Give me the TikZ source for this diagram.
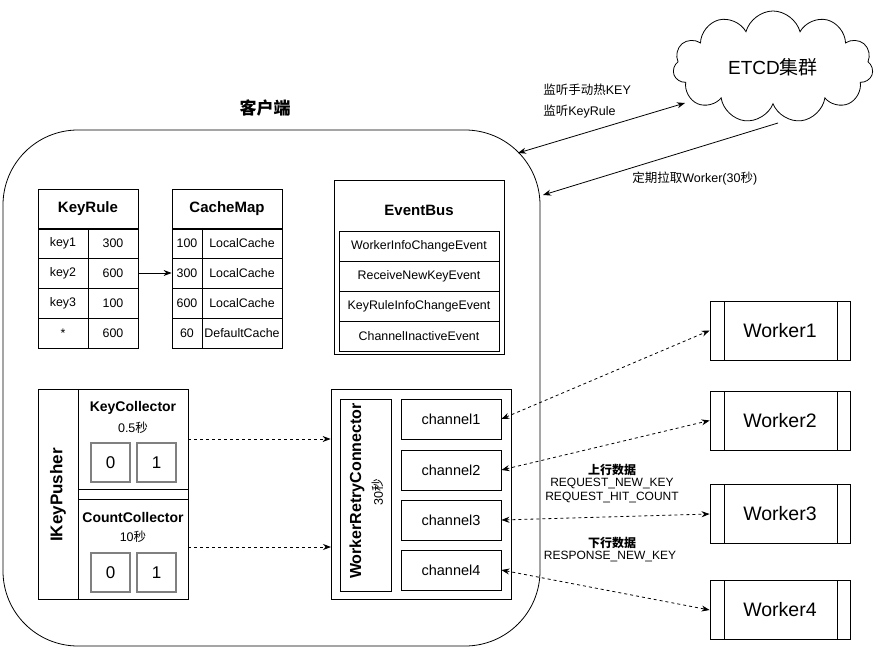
\documentclass[tikz,border=0pt]{standalone}
\usepackage{fontspec}
\setmainfont{Liberation Sans}
\newfontfamily\cjk{Noto Sans CJK SC}
\usetikzlibrary{arrows.meta,shapes.symbols}
\begin{document}
\begin{tikzpicture}[x=1pt,y=-1pt,line width=0.8pt,
  cell/.style={draw, inner sep=0pt, font=\fontsize{12.4}{14}\selectfont},
  head/.style={draw, inner sep=0pt, font=\fontsize{15}{17}\selectfont\bfseries},
  lbl/.style={inner sep=0pt, font=\fontsize{12.5}{14}\selectfont},
  small/.style={inner sep=0pt, font=\fontsize{12}{13}\selectfont},
  worker/.style={draw, minimum width=140pt, minimum height=59pt, font=\fontsize{19.5}{21}\selectfont,
    path picture={\draw ([xshift=14pt]path picture bounding box.north west) -- ([xshift=14pt]path picture bounding box.south west);
      \draw ([xshift=-13pt]path picture bounding box.north east) -- ([xshift=-13pt]path picture bounding box.south east);}},
  tip/.style={-{Stealth[length=8pt,width=6pt]}},
  link/.style={{Stealth[length=8pt,width=6pt]}-{Stealth[length=8pt,width=6pt]}, dash pattern=on 3pt off 3pt}]
\useasboundingbox (0,0) rectangle (881,651);

% client box and ETCD
\node[draw, rounded corners=75pt, minimum width=537pt, minimum height=516pt] (client) at (271.5,388){};
\node[font=\fontsize{17}{19}\selectfont\bfseries\cjk] (clienttitle) at (265,108){客户端};
\node[cloud, draw, cloud puffs=11, aspect=1.8, minimum width=200pt, minimum height=112pt, font=\fontsize{19}{21}\selectfont] (etcd) at (773,67){ETCD{\cjk 集群}};
\coordinate (etcdin) at (685,103);
\coordinate (etcdout) at (778,123);
\coordinate (clientin) at (518,153);
\coordinate (clientout) at (543,195);
\draw[{Stealth[length=8pt,width=6pt]}-{Stealth[length=8pt,width=6pt]}](clientin) -- (etcdin);
\draw[tip](etcdout) -- (clientout);
\node[lbl, anchor=west] (watch1) at (543,90){{\cjk 监听手动热}KEY};
\node[lbl, anchor=west] (watch2) at (543,112){{\cjk 监听}KeyRule};
\node[lbl, anchor=west] (pull) at (632,178){{\cjk 定期拉取}Worker(30{\cjk 秒})};

% KeyRule
\node[head, minimum width=100pt, minimum height=40pt] (kr0) at (88,209){KeyRule};
\node[cell, minimum width=50pt, minimum height=30pt] (kr1a) at (63,243){key1};
\node[cell, minimum width=50pt, minimum height=30pt] (kr1b) at (113,243){300};
\node[cell, minimum width=50pt, minimum height=30pt] (kr2a) at (63,273){key2};
\node[cell, minimum width=50pt, minimum height=30pt] (kr2b) at (113,273){600};
\node[cell, minimum width=50pt, minimum height=30pt] (kr3a) at (63,303){key3};
\node[cell, minimum width=50pt, minimum height=30pt] (kr3b) at (113,303){100};
\node[cell, minimum width=50pt, minimum height=30pt] (kr4a) at (63,333){*};
\node[cell, minimum width=50pt, minimum height=30pt] (kr4b) at (113,333){600};

% CacheMap
\node[head, minimum width=110pt, minimum height=40pt] (cm0) at (227,209){CacheMap};
\node[cell, minimum width=30pt, minimum height=30pt] (cm1a) at (187,243){100};
\node[cell, minimum width=80pt, minimum height=30pt] (cm1b) at (242,243){LocalCache};
\node[cell, minimum width=30pt, minimum height=30pt] (cm2a) at (187,273){300};
\node[cell, minimum width=80pt, minimum height=30pt] (cm2b) at (242,273){LocalCache};
\node[cell, minimum width=30pt, minimum height=30pt] (cm3a) at (187,303){600};
\node[cell, minimum width=80pt, minimum height=30pt] (cm3b) at (242,303){LocalCache};
\node[cell, minimum width=30pt, minimum height=30pt] (cm4a) at (187,333){60};
\node[cell, minimum width=80pt, minimum height=30pt] (cm4b) at (242,333){DefaultCache};
\draw[tip](kr2b) -- (cm2a);

% EventBus
\node[draw, minimum width=170pt, minimum height=174pt] (eb) at (419,267){};
\node[font=\fontsize{15}{17}\selectfont\bfseries] (ebtitle) at (419,210){EventBus};
\node[cell, minimum width=160pt, minimum height=30pt] (ev1) at (419,246){WorkerInfoChangeEvent};
\node[cell, minimum width=160pt, minimum height=30pt] (ev2) at (419,276){ReceiveNewKeyEvent};
\node[cell, minimum width=160pt, minimum height=30pt] (ev3) at (419,306){KeyRuleInfoChangeEvent};
\node[cell, minimum width=160pt, minimum height=30pt] (ev4) at (419,336){ChannelInactiveEvent};

% IKeyPusher
\node[draw, minimum width=150pt, minimum height=210pt] (pusher) at (113,494){};
\node[draw, minimum width=40pt, minimum height=210pt] (pusherbar) at (58,494){};
\node[rotate=90, font=\fontsize{17}{19}\selectfont\bfseries] (pushertitle) at (58,495){IKeyPusher};
\node[draw, minimum width=110pt, minimum height=100pt] (kc) at (133,439){};
\node[font=\fontsize{14}{16}\selectfont\bfseries] (kctitle) at (133,408){KeyCollector};
\node[lbl] (kctime) at (133,428){0.5{\cjk 秒}};
\node[draw=gray, line width=1.4pt, minimum width=39pt, minimum height=39pt, font=\fontsize{17}{19}\selectfont] (kc0) at (110.5,462.5){0};
\node[draw=gray, line width=1.4pt, minimum width=39pt, minimum height=39pt, font=\fontsize{17}{19}\selectfont] (kc1) at (156.5,462.5){1};
\node[draw, minimum width=110pt, minimum height=100pt] (cc) at (133,549){};
\node[font=\fontsize{14}{16}\selectfont\bfseries] (cctitle) at (133,517){CountCollector};
\node[lbl] (cctime) at (133,537){10{\cjk 秒}};
\node[draw=gray, line width=1.4pt, minimum width=39pt, minimum height=39pt, font=\fontsize{17}{19}\selectfont] (cc0) at (110.5,572.5){0};
\node[draw=gray, line width=1.4pt, minimum width=39pt, minimum height=39pt, font=\fontsize{17}{19}\selectfont] (cc1) at (156.5,572.5){1};

% WorkerRetryConnector
\node[draw, minimum width=180pt, minimum height=210pt] (wrc) at (421,494){};
\node[draw, minimum width=51pt, minimum height=192pt] (wrcbar) at (365.5,495){};
\node[rotate=90, font=\fontsize{16}{18}\selectfont\bfseries] (wrctitle) at (357,491){WorkerRetryConnector};
\node[rotate=90, lbl] (wrctime) at (378,492){30{\cjk 秒}};
\node[cell, minimum width=100pt, minimum height=40pt, font=\fontsize{14.5}{16}\selectfont] (ch1) at (451,419){channel1};
\node[cell, minimum width=100pt, minimum height=40pt, font=\fontsize{14.5}{16}\selectfont] (ch2) at (451,470){channel2};
\node[cell, minimum width=100pt, minimum height=40pt, font=\fontsize{14.5}{16}\selectfont] (ch3) at (451,520){channel3};
\node[cell, minimum width=100pt, minimum height=40pt, font=\fontsize{14.5}{16}\selectfont] (ch4) at (451,570){channel4};
\draw[tip, dash pattern=on 3pt off 3pt](kc.east) -- (wrc.west |- kc.east);
\draw[tip, dash pattern=on 3pt off 3pt](188,547) -- (331,547);

% workers
\node[worker] (w1) at (780,330.5){Worker1};
\node[worker] (w2) at (780,420.5){Worker2};
\node[worker] (w3) at (780,514){Worker3};
\node[worker] (w4) at (780,610){Worker4};
\draw[link](ch1.east) -- (w1.west);
\draw[link](ch2.east) -- (w2.west);
\draw[link](ch3.east) -- (w3.west);
\draw[link](ch4.east) -- (w4.west);
\node[small, font=\fontsize{12}{13}\selectfont\bfseries\cjk] (up) at (612,470){上行数据};
\node[small] (up1) at (612,483){REQUEST\_NEW\_KEY};
\node[small] (up2) at (612,497){REQUEST\_HIT\_COUNT};
\node[small, font=\fontsize{12}{13}\selectfont\bfseries\cjk] (down) at (612,543){下行数据};
\node[small] (down1) at (610,556){RESPONSE\_NEW\_KEY};

\end{tikzpicture}
\end{document}
